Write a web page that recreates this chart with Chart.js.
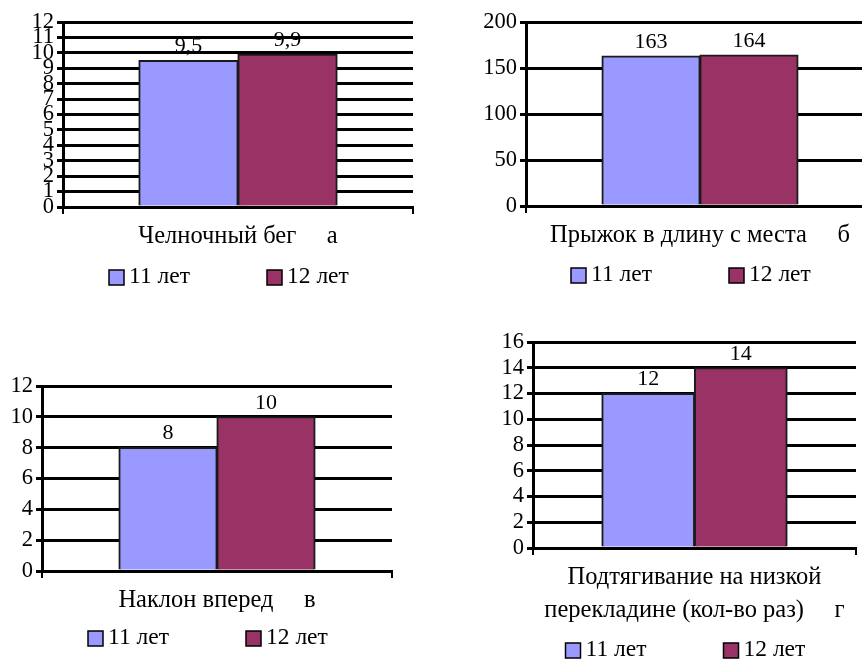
<!DOCTYPE html>
<html lang="ru">
<head>
<meta charset="utf-8">
<title>Результаты тестов 11 и 12 лет</title>
<script src="https://cdn.jsdelivr.net/npm/chart.js@4.4.1/dist/chart.umd.min.js"></script>
<style>
  html, body { margin: 0; padding: 0; background: #fff; overflow: hidden; }
  body { position: relative; width: 862px; height: 661px; }
  canvas { position: absolute; }
</style>
</head>
<body>
<canvas id="chartA" width="431" height="300" style="left:0;top:0"></canvas>
<canvas id="chartB" width="450" height="300" style="left:431px;top:0"></canvas>
<canvas id="chartC" width="431" height="331" style="left:0;top:330px"></canvas>
<canvas id="chartD" width="431" height="361" style="left:431px;top:300px"></canvas>
<script>
// Серии (возраст)
const ages = ['11 лет', '12 лет'];
const colors = ['#9999FF', '#993366'];

// Значения тестов
const shuttleRun = [9.5, 9.9];
const longJump = [163, 164];
const forwardBend = [8, 10];
const pullUps = [12, 14];

// Подписи категорий
const catA = ['Челночный бег     а'];
const catB = ['Прыжок в длину с места     б'];
const catC = ['Наклон вперед     в'];
const catD = [['Подтягивание на низкой', 'перекладине (кол-во раз)     г']];

// Шкалы по оси Y: максимум и шаг
const yMax = [12, 200, 12, 16];
const yStep = [1, 50, 2, 2];

const FONT = '"Liberation Serif", "Times New Roman", serif';

// подписи значений над столбцами
const valueLabels = {
    id: 'valueLabels',
    afterDatasetsDraw(chart) {
        const ctx = chart.ctx;
        ctx.save();
        ctx.font = '22px ' + FONT;
        ctx.fillStyle = '#000';
        ctx.textAlign = 'center';
        ctx.textBaseline = 'bottom';
        chart.data.datasets.forEach((ds, i) => {
            chart.getDatasetMeta(i).data.forEach((bar, j) => {
                ctx.fillText(String(ds.data[j]).replace('.', ','), bar.x, bar.y - 3);
            });
        });
        ctx.restore();
    }
};

// легенда в одну строку под подписью категории
const rowLegend = {
    id: 'rowLegend',
    afterDraw(chart, args, opts) {
        const ctx = chart.ctx;
        const area = chart.chartArea;
        const cx = (area.left + area.right) / 2;
        const y = area.bottom + opts.gap;
        ctx.save();
        ctx.font = '23.5px ' + FONT;
        ctx.textBaseline = 'middle';
        ctx.textAlign = 'left';
        chart.data.datasets.forEach((ds, i) => {
            const x = cx - 129 + i * 158;
            ctx.fillStyle = ds.backgroundColor;
            ctx.fillRect(x, y - 7, 15, 15);
            ctx.strokeStyle = '#000';
            ctx.lineWidth = 1.5;
            ctx.strokeRect(x, y - 7, 15, 15);
            ctx.fillStyle = '#000';
            ctx.fillText(ds.label, x + 20, y);
        });
        ctx.restore();
    }
};

function makeChart(id, cats, values, max, step, box) {
    const canvas = document.getElementById(id);
    return new Chart(canvas, {
        type: 'bar',
        data: {
            labels: cats,
            datasets: ages.map((age, i) => ({
                label: age,
                data: [values[i]],
                backgroundColor: colors[i],
                borderColor: '#1a1a1a',
                borderWidth: 2,
                inflateAmount: 0.6,
                categoryPercentage: box.cat,
                barPercentage: 1
            }))
        },
        options: {
            responsive: false,
            animation: false,
            events: [],
            layout: {
                padding: {
                    left: 0,
                    top: box.top,
                    right: canvas.width - box.right,
                    bottom: canvas.height - box.bottom - box.labelH
                }
            },
            plugins: {
                legend: { display: false },
                tooltip: { enabled: false },
                rowLegend: { gap: box.gap }
            },
            scales: {
                x: {
                    ticks: {
                        color: '#000',
                        font: { family: FONT, size: 24.5, lineHeight: 1.35 },
                        padding: 6,
                        maxRotation: 0,
                        autoSkip: false
                    },
                    grid: { display: true, drawOnChartArea: false, color: '#000', lineWidth: 2, tickLength: 7 },
                    border: { display: true, color: '#000', width: 3 },
                    afterFit: s => { s.height = box.labelH; }
                },
                y: {
                    min: 0,
                    max: max,
                    ticks: {
                        stepSize: step,
                        autoSkip: false,
                        color: '#000',
                        font: { family: FONT, size: 22.5 },
                        padding: 3
                    },
                    grid: { color: '#000', lineWidth: 3, tickLength: 6, tickColor: '#000' },
                    border: { display: true, color: '#000', width: 3 },
                    afterFit: s => { s.width = box.left; }
                }
            }
        },
        plugins: [valueLabels, rowLegend]
    });
}

makeChart('chartA', catA, shuttleRun, yMax[0], yStep[0],
    { left: 63, top: 22, right: 413, bottom: 207, labelH: 60, gap: 70, cat: 0.566 });
makeChart('chartB', catB, longJump, yMax[1], yStep[1],
    { left: 95, top: 22, right: 443, bottom: 206, labelH: 60, gap: 69, cat: 0.563 });
makeChart('chartC', catC, forwardBend, yMax[2], yStep[2],
    { left: 42, top: 56, right: 392, bottom: 241, labelH: 60, gap: 67, cat: 0.56 });
makeChart('chartD', catD, pullUps, yMax[3], yStep[3],
    { left: 102, top: 42, right: 425, bottom: 248, labelH: 90, gap: 102, cat: 0.573 });
</script>
</body>
</html>
